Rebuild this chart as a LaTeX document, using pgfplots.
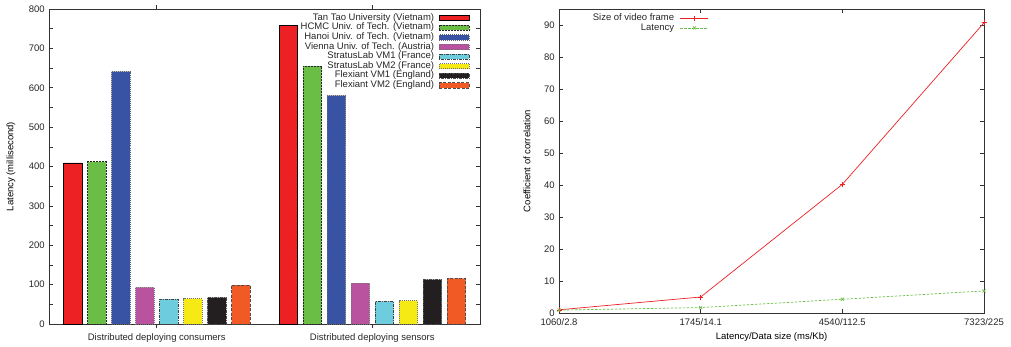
\documentclass[border=0pt]{standalone}
\usepackage{pgfplots}
\pgfplotsset{compat=1.18}
\usepackage{fontspec}
\setmainfont{Liberation Sans}
\definecolor{cred}{HTML}{ED2024}
\definecolor{cgreen}{HTML}{6ABD45}
\definecolor{cblue}{HTML}{3953A4}
\definecolor{cpurple}{HTML}{B9529F}
\definecolor{ccyan}{HTML}{6DCCDD}
\definecolor{cyellow}{HTML}{F5EA14}
\definecolor{cblack}{HTML}{231F20}
\definecolor{corange}{HTML}{F15A24}
\definecolor{axgray}{HTML}{333333}
\begin{document}
\begin{tikzpicture}
\fontsize{9.5}{11}\selectfont
\useasboundingbox (0,0) rectangle (1011pt,346pt);
\pgfplotsset{
  every axis/.append style={
    font=\fontsize{9.5}{11}\selectfont,
    /pgf/number format/assume math mode=true,
    scale only axis,
    axis line style={axgray, line width=1pt},
    tick style={axgray, line width=0.6pt},
    tick align=inside,
    major tick length=4pt, minor tick length=4pt,
    tick label style={text=black!85},
    label style={text=black!85},
    legend style={draw=none, fill=none, font=\fontsize{9.5}{11}\selectfont,
      row sep=0pt, inner sep=0pt,
      nodes={inner sep=0pt, text height=7pt, text depth=2.6pt, text=black!85}},
    legend cell align=right,
    legend plot pos=right,
  }
}
% ---------------- left: bars
\begin{axis}[
  at={(49pt,22pt)}, anchor=south west,
  width=431pt, height=315pt,
  xmin=-0.5, xmax=1.5, ymin=0, ymax=800,
  ybar=5.5pt, bar width=18.5pt,
  xtick={0,1},
  xticklabels={Distributed deploying consumers, Distributed deploying sensors},
  xticklabel style={yshift=-2pt},
  ytick={0,100,...,800}, minor ytick={50,150,...,750},
  yticklabel style={xshift=-1pt},
  every axis y label/.style={at={(axis description cs:-0.0882,0.5)},rotate=90,anchor=center},
  ylabel={Latency (millisecond)},
  legend style={at={(axis description cs:0.977,0.987)}, anchor=north east, column sep=5pt},
  legend image code/.code={\draw[#1] (0pt,-2.6pt) rectangle (30pt,2.6pt);},
]
\addplot[fill=cred, draw=black, line width=0.8pt] coordinates {(0,409) (1,758)};
\addlegendentry{Tan Tao University (Vietnam)}
\addplot[fill=cgreen, draw=black!85, line width=0.7pt, dash pattern=on 2pt off 1pt] coordinates {(0,412) (1,655)};
\addlegendentry{HCMC Univ. of Tech. (Vietnam)}
\addplot[fill=cblue, draw=black!60, line width=0.7pt, dash pattern=on 1pt off 1pt] coordinates {(0,641) (1,580)};
\addlegendentry{Hanoi Univ. of Tech. (Vietnam)}
\addplot[fill=cpurple, draw=black!55, line width=0.7pt, dash pattern=on 1pt off 1pt] coordinates {(0,93) (1,104)};
\addlegendentry{Vienna Univ. of Tech. (Austria)}
\addplot[fill=ccyan, draw=black!75, line width=0.7pt, dash pattern=on 3pt off 1pt on 1pt off 1pt] coordinates {(0,63.5) (1,57.5)};
\addlegendentry{StratusLab VM1 (France)}
\addplot[fill=cyellow, draw=black!55, line width=0.7pt, dash pattern=on 1pt off 1pt] coordinates {(0,64.3) (1,59.3)};
\addlegendentry{StratusLab VM2 (France)}
\addplot[fill=cblack, draw=black!70, line width=0.7pt, dash pattern=on 3pt off 1pt on 1pt off 1pt] coordinates {(0,67) (1,112.6)};
\addlegendentry{Flexiant VM1 (England)}
\addplot[fill=corange, draw=black!70, line width=0.7pt, dash pattern=on 3pt off 1.5pt] coordinates {(0,99) (1,116)};
\addlegendentry{Flexiant VM2 (England)}
\end{axis}
% ---------------- right: lines
\begin{axis}[
  at={(559pt,33pt)}, anchor=south west,
  width=425pt, height=304pt,
  xmin=0, xmax=3, ymin=0, ymax=95,
  xtick={0,1,2,3},
  xticklabels={1060/2.8, 1745/14.1, 4540/112.5, 7323/225},
  xticklabel style={yshift=-2pt},
  ytick={0,10,...,90},
  yticklabel style={xshift=-1pt},
  every axis y label/.style={at={(axis description cs:-0.0753,0.5)},rotate=90,anchor=center},
  ylabel={Coefficient of correlation},
  every axis x label/.style={at={(axis description cs:0.5,-0.0789)},anchor=center},
  xlabel={Latency/Data size (ms/Kb)},
  legend style={at={(axis description cs:0.353,0.986)}, anchor=north east, column sep=6pt},
  legend image code/.code={\draw[mark repeat=2,mark phase=2,#1] plot coordinates {(0pt,0pt) (14pt,0pt) (28pt,0pt)};},
]
\addplot[color=cred, line width=0.7pt, mark=+, mark size=2.5pt, mark options={solid, line width=0.6pt}] coordinates {(0,1.0) (1,5.0) (2,40.2) (3,90.7)};
\addlegendentry{Size of video frame}
\addplot[color=cgreen, line width=0.7pt, dash pattern=on 2.5pt off 1.5pt, mark=x, mark size=2.2pt, mark options={solid, line width=0.6pt}] coordinates {(0,0.9) (1,1.7) (2,4.3) (3,6.9)};
\addlegendentry{Latency}
\end{axis}
\end{tikzpicture}
\end{document}
